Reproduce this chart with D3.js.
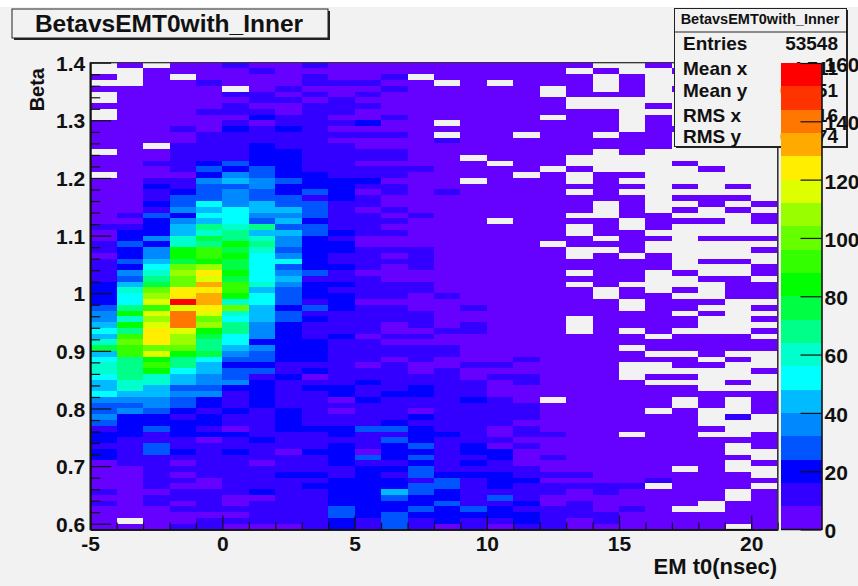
<!DOCTYPE html>
<html><head><meta charset="utf-8">
<script src="https://cdn.jsdelivr.net/npm/d3@7"></script>
<style>
html,body{margin:0;padding:0;background:#f2f2f2;overflow:hidden}
text{font-family:"Liberation Sans",Arial,sans-serif;font-weight:bold;fill:#111}
</style></head><body><svg id="c" width="858" height="586"></svg>
<script>
const titleText="BetavsEMT0with_Inner", xTitle="EM t0(nsec)", yTitle="Beta";
const xEdgeStart=-5, xEdgeEnd=21, yEdgeStart=0.59, yEdgeEnd=1.4, binDy=0.01;
const xMajor=[-5,0,5,10,15,20];
const xMinor=[-4,-3,-2,-1,1,2,3,4,6,7,8,9,11,12,13,14,16,17,18,19,21];
const yMajor=[0.6,0.7,0.8,0.9,1.0,1.1,1.2,1.3,1.4];
const yMinor=[0.62,0.64,0.66,0.68,0.72,0.74,0.76,0.78,0.82,0.84,0.86,0.88,0.92,0.94,0.96,0.98,1.02,1.04,1.06,1.08,1.12,1.14,1.16,1.18,1.22,1.24,1.26,1.28,1.32,1.34,1.36,1.38];
const zTicks=[0,20,40,60,80,100,120,140,160];
const palette=["#6600ff","#3300ff","#0000ff","#0055ff","#0088ff","#00bbff","#00ffff","#00ffcc","#00ff88","#00ff44","#00ff00","#33ff00","#66ff00","#99ff00","#ddff00","#ffee00","#ffaa00","#ff7700","#ff3300","#ff0000"];
const statLabels=["Entries","Mean x","Mean y","RMS x","RMS y"];
const statValues=["53548","4.711","0.9851","5.216","0.1474"];
// counts per bin, top row (beta 1.39-1.40) first; 0 = empty bin
const counts=[
[0,4,0,4,4,12,4,4,12,4,4,4,4,4,4,4,4,4,4,0,0,4,0,0,0,0],
[0,0,4,4,4,4,12,4,4,4,4,4,4,4,4,4,4,4,0,4,0,0,4,0,0,0],
[4,0,4,0,4,4,4,4,12,4,4,12,0,4,4,4,4,4,4,0,4,0,0,0,0,0],
[0,0,4,4,12,4,4,4,12,12,12,4,4,0,4,0,4,4,4,0,4,0,0,0,0,0],
[4,4,4,4,4,0,4,12,4,4,4,12,4,4,4,4,4,0,4,0,4,0,4,0,0,0],
[0,4,4,4,4,12,12,4,12,4,12,4,4,4,4,4,4,0,4,4,4,0,0,0,0,0],
[0,4,4,4,4,4,12,12,4,12,4,4,4,4,4,4,4,4,0,0,0,0,0,0,0,0],
[4,4,4,4,4,12,4,4,12,12,12,4,4,4,4,4,4,4,0,0,0,4,0,0,0,0],
[0,4,4,4,12,12,12,4,12,12,4,4,4,4,4,4,4,4,4,4,0,0,0,0,0,0],
[0,4,4,4,4,4,20,12,12,4,4,12,4,4,4,4,4,0,4,4,0,4,0,0,0,0],
[4,4,4,4,4,12,4,12,12,12,20,4,4,0,4,4,4,4,4,4,0,4,0,0,0,0],
[4,4,4,12,4,20,12,20,12,4,4,4,4,4,4,4,4,4,4,4,0,4,4,0,0,0],
[4,4,4,4,12,12,12,12,12,12,12,12,4,0,4,4,0,4,4,0,4,4,0,0,0,0],
[4,4,4,4,12,12,12,12,12,4,4,4,4,12,4,4,4,4,4,4,4,4,0,0,0,0],
[4,4,0,12,12,12,20,12,12,12,4,4,4,4,4,4,4,4,4,4,4,4,0,0,0,0],
[0,4,4,12,12,12,20,20,12,12,12,12,4,4,4,4,4,4,4,0,4,0,0,0,0,0],
[4,4,4,12,12,12,20,20,12,12,12,12,4,4,0,4,4,4,0,0,0,0,0,0,0,0],
[4,4,12,12,20,28,20,20,12,12,4,4,4,4,4,0,4,4,0,0,0,0,4,0,0,0],
[4,4,4,12,28,20,28,20,12,12,12,12,12,4,4,4,4,0,4,0,0,0,0,4,0,0],
[0,4,4,4,20,36,28,20,20,12,12,12,4,4,4,4,0,4,0,4,4,0,0,0,0,0],
[4,4,12,12,36,44,36,28,20,20,20,4,4,4,0,4,4,4,0,4,0,0,0,0,0,0],
[4,4,20,12,28,28,36,20,20,20,12,12,4,4,4,4,4,4,4,4,4,0,4,0,4,0],
[4,4,12,20,28,36,28,20,28,20,4,12,4,12,4,4,4,4,0,4,0,0,0,0,0,0],
[4,4,12,28,28,36,28,28,12,20,12,4,4,4,4,4,4,4,4,4,4,0,4,4,4,0],
[4,4,20,28,52,36,44,28,28,12,12,4,4,4,4,4,4,4,4,0,4,0,0,4,0,4],
[4,4,12,36,44,52,44,44,28,12,4,12,4,4,4,4,4,4,4,0,4,0,4,0,4,0],
[4,12,28,20,52,52,36,36,28,12,12,4,12,4,4,4,4,4,0,0,4,4,0,0,0,4],
[4,4,20,36,44,52,28,44,20,12,12,12,4,4,4,0,4,4,4,4,0,4,4,4,0,4],
[12,12,20,44,68,60,68,28,28,12,12,4,4,4,4,4,4,4,0,4,0,4,0,0,0,0],
[4,20,20,44,60,68,44,44,28,20,12,12,4,4,4,4,4,4,0,4,4,0,0,0,0,0],
[4,20,36,60,76,68,60,36,20,12,4,4,4,4,4,4,4,4,4,0,4,4,0,4,4,4],
[12,28,20,60,68,84,68,36,20,20,4,4,4,4,4,4,4,0,4,4,4,0,0,0,0,0],
[12,20,36,84,92,76,60,28,20,20,12,12,12,4,4,4,4,4,0,0,4,0,0,0,0,4],
[4,20,36,84,92,84,52,36,20,12,12,4,12,4,4,4,4,4,0,4,0,4,0,0,0,0],
[12,28,44,76,84,76,52,52,20,12,12,12,12,4,4,4,4,4,4,4,4,4,0,4,4,0],
[12,20,52,100,108,76,52,28,20,20,12,4,12,4,4,4,4,4,4,4,4,4,0,0,0,4],
[12,36,60,108,124,84,52,36,28,12,4,4,4,4,4,4,4,4,0,4,4,0,4,0,0,4],
[12,28,68,100,116,76,52,44,12,12,12,4,4,4,4,4,4,4,4,4,4,0,0,4,4,0],
[20,44,76,100,132,92,60,36,20,20,12,12,12,4,4,4,4,4,0,4,0,0,0,0,4,4],
[20,60,100,124,124,92,44,28,20,12,12,12,12,4,4,4,4,4,4,0,4,0,4,0,4,4],
[20,52,108,124,132,84,52,28,20,20,12,12,4,12,4,4,4,4,4,0,4,4,0,0,4,4],
[20,52,116,156,132,60,52,28,12,20,4,4,4,4,4,4,4,4,4,4,0,4,4,4,0,0],
[28,68,92,116,124,100,44,20,28,20,12,12,4,4,12,4,4,4,4,4,0,4,4,0,0,4],
[36,84,116,140,116,60,44,28,12,12,12,12,12,4,4,4,4,4,4,4,4,4,0,4,0,0],
[36,60,108,140,100,52,44,28,20,12,12,12,12,4,4,4,4,4,0,4,4,4,4,0,0,4],
[44,84,116,140,108,68,36,20,12,12,12,4,12,4,12,4,4,4,0,4,4,4,4,0,0,0],
[52,68,124,116,84,68,36,20,12,12,12,4,4,12,12,4,4,4,0,4,0,4,0,0,0,4],
[44,92,124,108,76,52,36,20,12,20,4,12,12,4,4,4,4,4,4,4,4,0,4,4,4,0],
[60,100,124,108,68,52,20,20,20,12,12,4,4,4,4,4,4,4,4,4,4,4,4,4,4,4],
[76,92,100,100,68,44,36,20,20,12,12,12,12,12,4,4,4,4,4,4,0,4,4,4,4,4],
[44,92,116,84,76,36,28,20,20,12,12,12,12,12,4,4,4,4,4,4,4,0,0,4,0,0],
[52,68,84,68,52,28,28,20,20,12,12,4,12,4,4,4,12,4,4,4,4,4,4,0,4,0],
[60,68,92,68,44,20,20,12,12,12,4,12,4,4,12,12,4,4,4,4,0,0,4,4,0,0],
[60,68,84,52,44,28,28,12,20,12,12,12,4,12,4,4,4,4,4,4,0,0,0,0,0,4],
[52,68,60,44,36,28,12,20,4,12,12,12,12,12,4,12,12,4,4,4,0,4,4,0,0,0],
[44,60,60,44,36,36,20,12,12,12,20,12,12,12,12,4,12,4,4,4,4,0,0,0,4,0],
[44,60,44,28,28,20,20,12,20,20,12,12,20,12,12,4,4,4,4,4,4,4,4,0,0,0],
[52,44,44,36,36,12,20,12,12,20,12,20,20,12,12,4,4,4,4,4,4,4,4,4,4,4],
[36,36,36,28,20,12,20,12,12,4,20,12,12,12,20,12,4,0,4,4,4,4,0,4,0,4],
[28,28,36,28,20,12,20,12,12,12,12,12,12,12,12,12,12,4,4,4,4,4,0,4,0,4],
[28,36,28,20,12,20,12,20,12,4,12,12,4,12,12,12,12,4,4,4,4,0,4,0,0,4],
[36,20,20,12,20,12,12,20,12,12,12,12,20,12,12,12,12,4,4,4,4,4,4,0,12,0],
[28,20,20,20,20,12,12,20,12,12,12,20,12,12,12,12,4,4,4,4,4,4,4,0,0,0],
[12,20,28,20,12,4,12,20,20,20,28,28,20,12,12,4,12,4,4,4,4,4,4,4,0,0],
[20,20,12,20,20,20,12,12,12,20,12,12,20,20,12,4,12,12,4,4,0,4,4,0,0,4],
[20,12,12,12,4,12,20,12,12,12,12,28,20,12,12,12,4,4,4,4,4,4,4,4,4,4],
[12,12,28,12,12,12,12,12,12,20,12,20,28,12,20,4,12,4,4,4,4,4,4,4,0,4],
[20,12,28,20,12,20,12,4,20,20,4,20,20,12,20,20,4,4,4,4,4,4,4,4,0,0],
[20,12,12,12,12,12,12,12,12,20,28,20,28,12,12,20,4,12,4,4,4,4,4,4,4,0],
[4,12,12,4,12,12,4,12,12,20,12,12,20,12,20,12,4,4,4,4,4,4,4,4,0,4],
[4,4,12,12,12,12,12,12,12,12,20,20,28,12,12,12,12,4,4,4,4,4,0,4,0,0],
[4,4,12,4,12,12,12,20,20,12,20,12,28,20,20,20,12,12,12,4,4,4,4,4,4,0],
[4,4,12,12,4,12,12,12,12,20,20,20,12,28,12,20,20,4,4,4,4,12,4,4,4,4],
[4,4,12,4,4,12,12,12,20,20,20,20,28,28,12,20,12,12,12,12,12,0,4,4,4,0],
[12,4,4,12,12,12,20,12,12,20,20,44,28,20,12,12,12,12,4,12,4,4,4,4,0,4],
[4,4,12,12,12,4,4,12,12,20,20,28,20,20,12,28,12,4,4,4,4,4,4,4,0,4],
[12,4,12,4,12,4,12,12,12,20,20,20,20,28,12,12,20,4,12,4,4,4,4,0,4,4],
[4,4,4,12,12,12,12,12,12,28,20,20,28,20,28,20,12,12,12,4,12,4,0,0,4,4],
[4,4,4,4,4,4,12,12,12,28,20,28,20,20,20,20,20,12,12,12,4,4,4,4,4,4],
[4,0,4,4,12,12,12,12,12,20,12,28,12,20,12,12,20,12,4,12,4,4,4,4,4,4],
[4,4,4,12,12,4,4,4,12,20,12,28,12,4,12,4,12,12,4,4,4,4,4,4,0,4]
];

const svg=d3.select("#c");
const x=d3.scaleLinear().domain([xEdgeStart,xEdgeEnd]).range([90.2,777.7]);
const y=d3.scaleLinear().domain([yEdgeStart,yEdgeEnd]).range([529.5,62.7]);
const z=d3.scaleLinear().domain([0,160]).range([529.5,63]);
const color=d3.scaleQuantize().domain([0,160]).range(palette);

svg.append("rect").attr("x",0).attr("y",0).attr("width",858).attr("height",586).attr("fill","#f2f2f2");
svg.append("rect").attr("x",0).attr("y",0).attr("width",858).attr("height",7).attr("fill","#fff");

// frame under the cells
svg.append("rect").attr("x",x(xEdgeStart)).attr("y",y(yEdgeEnd)).attr("width",x(xEdgeEnd)-x(xEdgeStart)).attr("height",y(yEdgeStart)-y(yEdgeEnd)).attr("fill","none").attr("stroke","#222").attr("stroke-width",1.2);

// cells
const cells=[];
counts.forEach((row,r)=>row.forEach((v,c)=>{if(v>0)cells.push({r,c,v});}));
svg.append("g").attr("shape-rendering","crispEdges").selectAll("rect").data(cells).join("rect")
  .attr("x",d=>x(xEdgeStart+d.c))
  .attr("width",d=>x(xEdgeStart+d.c+1)-x(xEdgeStart+d.c))
  .attr("y",d=>y(yEdgeEnd-d.r*binDy))
  .attr("height",d=>y(yEdgeEnd-(d.r+1)*binDy)-y(yEdgeEnd-d.r*binDy))
  .attr("fill",d=>color(d.v));

// axes
const fnt=d=>d===1?"1":d3.format(".1f")(d);
function styleAxis(g){g.select(".domain").attr("stroke","#111").attr("stroke-width",1.6);g.selectAll("line").attr("stroke","#111").attr("stroke-width",1.2);}
function styleLabels(sel,dy){sel.style("font-size","21px").style("font-family","Liberation Sans").style("font-weight","bold").attr("dy",dy);}
const bottom=svg.append("g").attr("transform",`translate(0,${y(yEdgeStart)})`);
bottom.append("g").call(d3.axisBottom(x).tickValues(xMinor).tickSize(-7).tickSizeOuter(0).tickFormat("")).call(styleAxis);
bottom.append("g").call(d3.axisBottom(x).tickValues(xMajor).tickSize(-14).tickSizeOuter(0).tickPadding(7).tickFormat(d=>String(d))).call(styleAxis)
  .selectAll("text").call(styleLabels,"0.71em");
const left=svg.append("g").attr("transform",`translate(${x(xEdgeStart)},0)`);
left.append("g").call(d3.axisLeft(y).tickValues(yMinor).tickSize(-10).tickSizeOuter(0).tickFormat("")).call(styleAxis);
left.append("g").call(d3.axisLeft(y).tickValues(yMajor).tickSize(-21).tickSizeOuter(0).tickPadding(5).tickFormat(fnt)).call(styleAxis)
  .selectAll("text").call(styleLabels,"0.36em");
svg.append("line").attr("x1",x(xEdgeEnd)).attr("x2",x(xEdgeEnd)).attr("y1",y(yEdgeEnd)).attr("y2",y(yEdgeStart)).attr("stroke","#333").attr("stroke-width",1.4);

svg.append("text").attr("x",777).attr("y",574).attr("text-anchor","end").style("font-size","22px").text(xTitle);
svg.append("text").attr("transform","translate(44,68) rotate(-90)").attr("text-anchor","end").style("font-size","20px").text(yTitle);

// title box
svg.append("rect").attr("x",14).attr("y",11).attr("width",316).attr("height",29).attr("fill","#222");
svg.append("rect").attr("x",12).attr("y",9).attr("width",316).attr("height",29).attr("fill","#f2f2f2").attr("stroke","#222").attr("stroke-width",1);
svg.append("text").attr("x",169).attr("y",32).attr("text-anchor","middle").style("font-size","24.5px").text(titleText);

// stats box
svg.append("rect").attr("x",676).attr("y",10).attr("width",172).attr("height",138).attr("fill","#222");
svg.append("rect").attr("x",674.5).attr("y",8.5).attr("width",172).attr("height",138).attr("fill","#f2f2f2").attr("stroke","#222").attr("stroke-width",1);
svg.append("line").attr("x1",674.5).attr("x2",846.5).attr("y1",32).attr("y2",32).attr("stroke","#222");
svg.append("text").attr("x",760).attr("y",24).attr("text-anchor","middle").style("font-size","14.5px").text(titleText);
const statY=[50,75,97,122,143];
statLabels.forEach((l,i)=>{
  svg.append("text").attr("x",683).attr("y",statY[i]).style("font-size","19px").text(l);
  svg.append("text").attr("x",838).attr("y",statY[i]).attr("text-anchor","end").style("font-size","19px").text(statValues[i]);
});

// colour bar
const bands=palette.map((c,i)=>({c,lo:i*8,hi:(i+1)*8}));
svg.append("g").attr("shape-rendering","crispEdges").selectAll("rect").data(bands).join("rect")
  .attr("x",781).attr("width",40.5)
  .attr("y",d=>z(d.hi)).attr("height",d=>z(d.lo)-z(d.hi)).attr("fill",d=>d.c);
const zAxis=svg.append("g").attr("transform","translate(821.5,0)")
  .call(d3.axisRight(z).tickValues(zTicks).tickSize(-21).tickSizeOuter(0).tickPadding(3).tickFormat(d3.format("d"))).call(styleAxis);
zAxis.selectAll("text").call(styleLabels,"0.4em");
svg.append("line").attr("x1",781).attr("x2",821.5).attr("y1",529.5).attr("y2",529.5).attr("stroke","#111").attr("stroke-width",1.4);
</script></body></html>
